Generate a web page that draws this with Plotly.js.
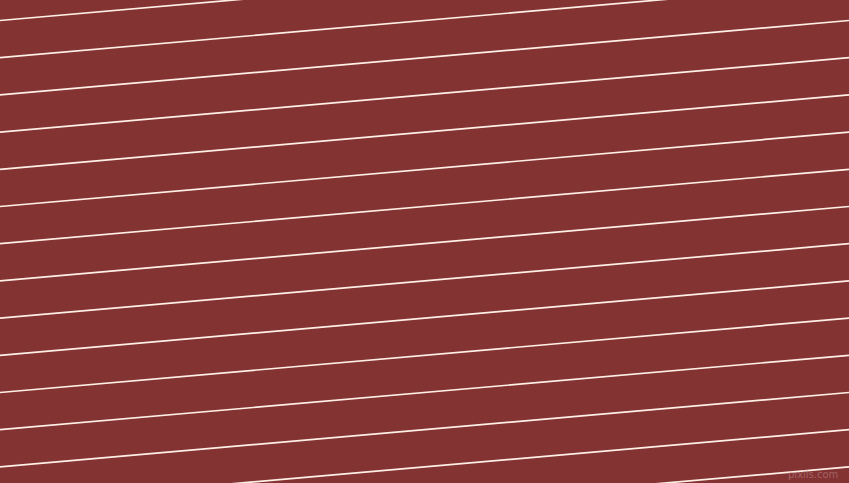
<!DOCTYPE html>
<html>
<head>
<meta charset="utf-8">
<script src="https://cdn.plot.ly/plotly-3.0.1.min.js"></script>
<style>
  html, body { margin: 0; padding: 0; background: #843333; }
  #chart { width: 849px; height: 483px; }
</style>
</head>
<body>
<div id="chart"></div>
<script>
// stripe ends: where each line meets the left (x=0) and right (x=849) edge, y measured from the top
var leftX = 0, rightX = 849;
var leftY = [20.5, 57.7, 94.9, 132.1, 169.3, 206.5, 243.7, 280.9, 318.1, 355.3, 392.5, 429.7, 466.9, 504.1, 541.3];
var rightY = [-53.9, -16.7, 20.5, 57.7, 94.9, 132.1, 169.3, 206.5, 243.7, 280.9, 318.1, 355.3, 392.5, 429.7, 466.9];
var watermark = 'pixlis.com';

var xs = [], ys = [];
leftY.forEach(function(y0, i){
    xs.push(leftX, rightX, null);
    ys.push(y0, rightY[i], null);
});

var data = [{
    x: xs,
    y: ys,
    type: 'scatter',
    mode: 'lines',
    connectgaps: false,
    hoverinfo: 'skip',
    line: { color: '#fff0e6', width: 1.7 }
}];

var hidden = { showgrid: false, zeroline: false, showticklabels: false, ticks: '', showline: false, fixedrange: true };

var layout = {
    width: 849,
    height: 483,
    margin: { l: 0, r: 0, t: 0, b: 0, pad: 0 },
    paper_bgcolor: '#843333',
    plot_bgcolor: '#843333',
    showlegend: false,
    xaxis: Object.assign({ range: [0, 849] }, hidden),
    yaxis: Object.assign({ range: [483, 0] }, hidden),
    annotations: [{
        text: watermark,
        x: 840, y: 474,
        xref: 'x', yref: 'y',
        xanchor: 'right', yanchor: 'middle',
        showarrow: false,
        font: { family: 'DejaVu Sans', size: 10, color: 'rgba(190,140,140,0.55)' }
    }]
};

Plotly.newPlot('chart', data, layout, { staticPlot: true, displayModeBar: false });
</script>
</body>
</html>
